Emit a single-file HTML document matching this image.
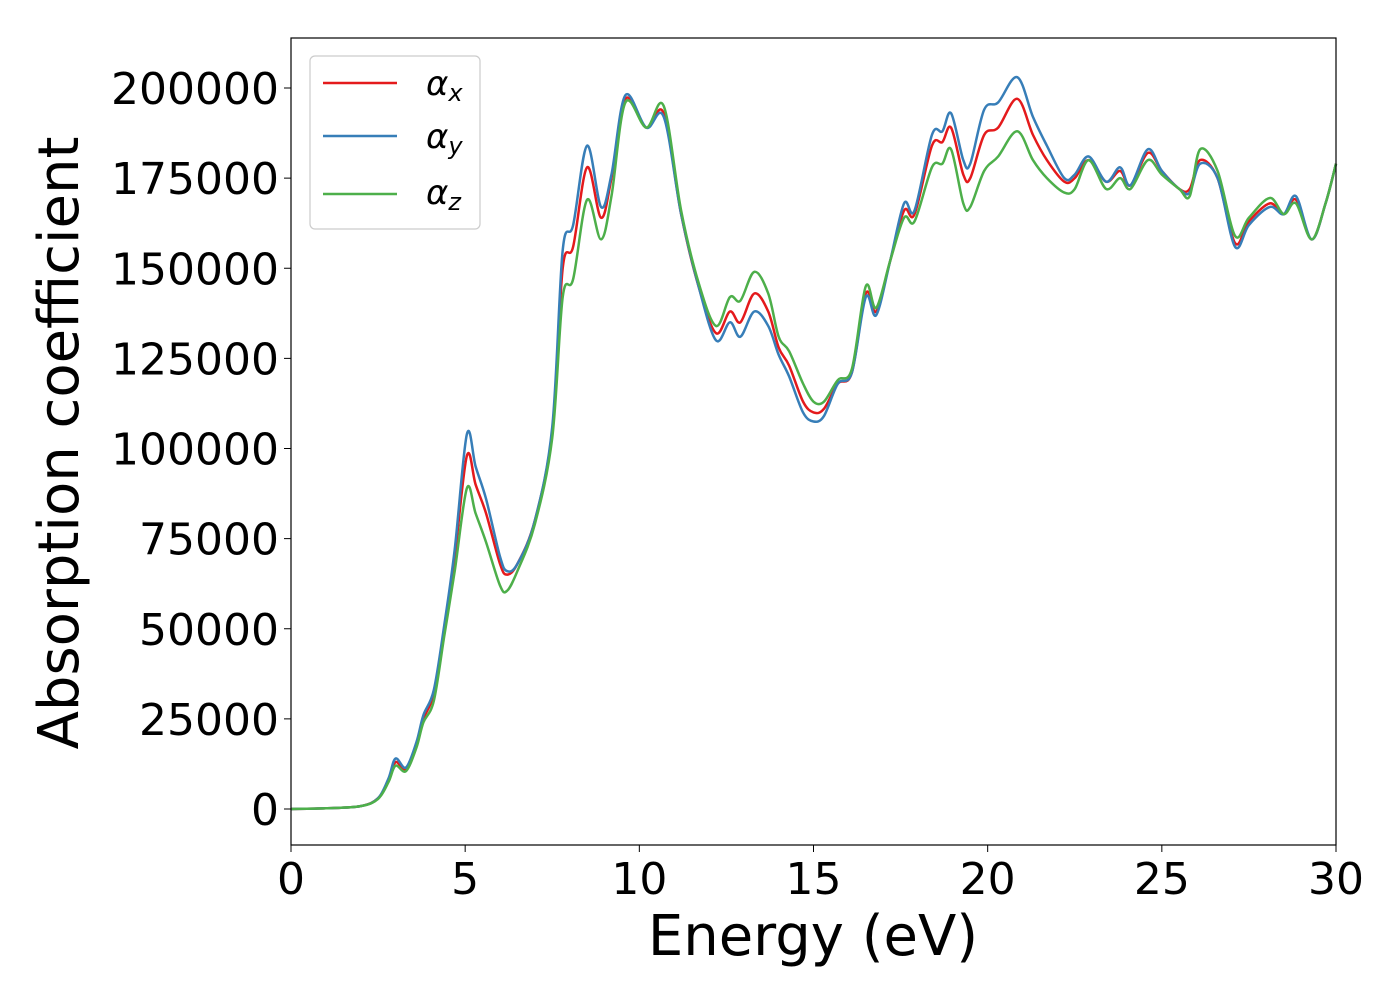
<!DOCTYPE html>
<html><head><meta charset="utf-8"><style>
body{margin:0;background:#fff;}
svg{display:block;font-family:"DejaVu Sans","Liberation Sans",sans-serif;}
</style></head><body>
<svg id="chart" width="1400" height="1000" xmlns="http://www.w3.org/2000/svg">
<g id="ticks"></g>
<g id="series"></g>
<rect x="291" y="38" width="1045" height="807" fill="none" stroke="#000" stroke-width="1.2"/>
<text x="813" y="955" font-size="56" text-anchor="middle">Energy (eV)</text>
<text transform="translate(78,443) rotate(-90)" font-size="56" text-anchor="middle">Absorption coefficient</text>
<g>
<rect x="310" y="56" width="170" height="173" rx="5" fill="#fff" stroke="#ccc" stroke-width="1.2"/>
<line x1="323" y1="83" x2="397" y2="83" stroke="#e41a1c" stroke-width="2.5"/>
<line x1="323" y1="136" x2="397" y2="136" stroke="#377eb8" stroke-width="2.5"/>
<line x1="323" y1="194" x2="397" y2="194" stroke="#4daf4a" stroke-width="2.5"/>
<text x="426" y="95" font-size="34" font-style="italic">α<tspan font-size="24" dy="6">x</tspan></text>
<text x="426" y="148" font-size="34" font-style="italic">α<tspan font-size="24" dy="6">y</tspan></text>
<text x="426" y="204" font-size="34" font-style="italic">α<tspan font-size="24" dy="6">z</tspan></text>
</g>
</svg>
<script>
const energy=[0,1,2,2.5,2.8,3.0,3.3,3.6,3.8,4.1,4.4,4.7,5.05,5.3,5.6,6.0,6.2,6.5,7.0,7.5,7.8,8.1,8.5,8.9,9.2,9.6,10.2,10.7,11.2,11.7,12.2,12.6,12.9,13.3,13.7,14.0,14.3,14.7,15.0,15.3,15.7,16.1,16.5,16.8,17.2,17.6,17.9,18.4,18.7,18.95,19.3,19.5,19.9,20.3,20.85,21.3,21.7,22.2,22.5,22.9,23.4,23.8,24.1,24.6,25.0,25.5,25.8,26.1,26.6,27.1,27.5,28.1,28.5,28.85,29.3,29.7,30];
const alphaX=[0,200,800,3000,8000,13000,11000,18000,25000,32000,50000,70000,98000,90000,82000,68000,65000,68000,80000,105000,150000,156000,178000,164000,175000,197000,189000,193000,165000,145000,132000,138000,135000,143000,138000,128000,123000,113000,110000,111000,118000,121000,143000,138000,152000,166000,165000,184000,185000,189000,176000,175000,187000,189000,197000,187000,180000,174000,175000,180000,174000,177000,173000,182000,177000,172000,172000,180000,175000,157000,163000,168000,165000,169000,158000,168000,179000];
const alphaY=[0,200,800,3000,8500,14000,11500,18500,26000,33000,51000,72000,104000,95000,86000,70000,66000,68000,80000,106000,155000,162000,184000,167000,176000,198000,189000,192000,165000,145000,130000,135000,131000,138000,134000,126000,120000,110000,107500,109000,118000,121000,142000,137000,152000,168000,166000,187000,188000,193000,180000,179000,194000,196000,203000,192000,184000,175000,176000,181000,174000,178000,173000,183000,177000,172000,171000,179000,175000,156000,162000,167000,165000,170000,158000,168000,179000];
const alphaZ=[0,200,800,2800,7500,12000,10500,17000,24000,30000,48000,66000,89000,82000,74000,62000,60500,66000,79000,103000,142000,147000,169000,158000,170000,196000,189000,195000,166000,146000,134000,142000,141000,149000,143000,131000,127000,118000,113000,113000,119000,122000,145000,139000,152000,164000,163000,178000,179000,183000,168000,167000,177000,181000,188000,180000,175000,171000,172000,180000,172000,175000,172000,180000,176000,172000,170000,183000,177000,159000,164000,169500,165000,168000,158000,168000,179000];
const xTicks=[0,5,10,15,20,25,30];
const yTicks=[0,25000,50000,75000,100000,125000,150000,175000,200000];
const X=v=>291+v/30*1045;
const Y=v=>809-v/200000*721;
const NS="http://www.w3.org/2000/svg";
const tg=document.getElementById('ticks');
xTicks.forEach(t=>{
 const l=document.createElementNS(NS,'line');
 l.setAttribute('x1',X(t));l.setAttribute('x2',X(t));l.setAttribute('y1',845);l.setAttribute('y2',852);l.setAttribute('stroke','#000');
 
 
 tg.appendChild(l);
 const s=document.createElementNS(NS,'text');
 s.setAttribute('x',X(t));s.setAttribute('y',894);s.setAttribute('font-size','44');s.setAttribute('text-anchor','middle');
 s.textContent=t;
 
 
 tg.appendChild(s);
});
yTicks.forEach(t=>{
 const l=document.createElementNS(NS,'line');
 l.setAttribute('x1',284);l.setAttribute('x2',291);l.setAttribute('y1',Y(t));l.setAttribute('y2',Y(t));l.setAttribute('stroke','#000');
 
 
 tg.appendChild(l);
 const s=document.createElementNS(NS,'text');
 s.setAttribute('x',279);s.setAttribute('y',Y(t)+16);s.setAttribute('font-size','44');s.setAttribute('text-anchor','end');
 s.textContent=t;
 
 
 tg.appendChild(s);
});
function pathFor(vals){
 const p=energy.map((e,i)=>[X(e),Y(vals[i])]);
 let d='M'+p[0][0]+','+p[0][1];
 for(let i=0;i<p.length-1;i++){
  const p0=p[i-1]||p[i],p1=p[i],p2=p[i+1],p3=p[i+2]||p2;
  const c1=[p1[0]+(p2[0]-p0[0])/6,p1[1]+(p2[1]-p0[1])/6];
  const c2=[p2[0]-(p3[0]-p1[0])/6,p2[1]-(p3[1]-p1[1])/6];
  d+=`C${c1[0]},${c1[1]} ${c2[0]},${c2[1]} ${p2[0]},${p2[1]}`;
 }
 return d;
}
const sg=document.getElementById('series');
[[alphaX,'#e41a1c','series-alpha-x'],[alphaY,'#377eb8','series-alpha-y'],[alphaZ,'#4daf4a','series-alpha-z']].forEach(([v,c,n])=>{
 const p=document.createElementNS(NS,'path');
 p.setAttribute('d',pathFor(v));p.setAttribute('fill','none');p.setAttribute('stroke',c);p.setAttribute('stroke-width','2.5');
 
 
 sg.appendChild(p);
});
</script>
</body></html>
